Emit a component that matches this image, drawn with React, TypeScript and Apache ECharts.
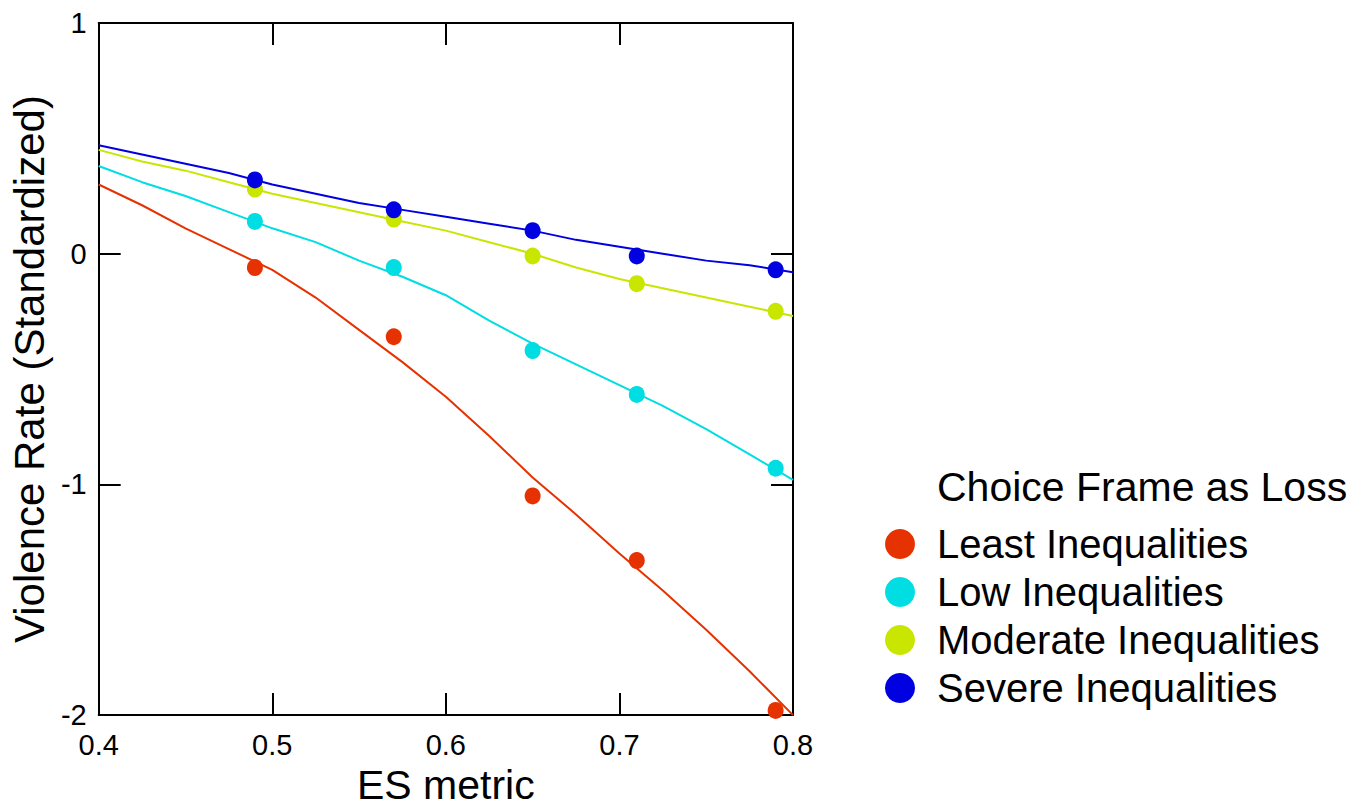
import React, { useEffect, useRef } from "react";
import * as echarts from "echarts";

const seriesNames = [
  "Least Inequalities",
  "Low Inequalities",
  "Moderate Inequalities",
  "Severe Inequalities",
];
const seriesColors = ["#e63200", "#00dde3", "#c8e600", "#0000e0"];

// observed points
const pointX = [0.49, 0.57, 0.65, 0.71, 0.79];
const leastPoints = [-0.06, -0.36, -1.05, -1.33, -1.98];
const lowPoints = [0.14, -0.06, -0.42, -0.61, -0.93];
const moderatePoints = [0.28, 0.15, -0.01, -0.13, -0.25];
const severePoints = [0.32, 0.19, 0.1, -0.01, -0.07];

// fitted curves
const fitX = [0.4, 0.425, 0.45, 0.475, 0.5, 0.525, 0.55, 0.575, 0.6, 0.625, 0.65, 0.675, 0.7, 0.725, 0.75, 0.775, 0.8];
const leastFit = [0.3, 0.21, 0.11, 0.02, -0.07, -0.19, -0.33, -0.47, -0.62, -0.79, -0.97, -1.13, -1.3, -1.46, -1.63, -1.81, -2.0];
const lowFit = [0.38, 0.31, 0.25, 0.18, 0.11, 0.05, -0.03, -0.1, -0.18, -0.29, -0.39, -0.48, -0.57, -0.66, -0.76, -0.87, -0.98];
const moderateFit = [0.45, 0.4, 0.36, 0.31, 0.26, 0.22, 0.18, 0.14, 0.1, 0.05, 0.0, -0.06, -0.11, -0.15, -0.19, -0.23, -0.27];
const severeFit = [0.47, 0.43, 0.39, 0.35, 0.3, 0.26, 0.22, 0.19, 0.16, 0.13, 0.1, 0.06, 0.03, 0.0, -0.03, -0.05, -0.08];

const xTicks = { min: 0.4, max: 0.8, interval: 0.1 };
const yTicks = { min: -2, max: 1, interval: 1 };

const allPoints = [leastPoints, lowPoints, moderatePoints, severePoints];
const allFits = [leastFit, lowFit, moderateFit, severeFit];

const FONT = "'Liberation Sans', Arial, Helvetica, sans-serif";

export default function App() {
  const ref = useRef<HTMLDivElement>(null);
  useEffect(() => {
    if (!ref.current) return;
    const chart = echarts.init(ref.current, null, { renderer: "svg" });
    const axisLine = { show: true, onZero: false, lineStyle: { color: "#000", width: 2 } };
    const axisTick = { show: true, inside: true, length: 22, lineStyle: { color: "#000", width: 2 } };
    const fitSeries = allFits.map((fit, i) => ({
      name: seriesNames[i] + " fit",
      type: "line",
      data: fitX.map((x, j) => [x, fit[j]]),
      showSymbol: false,
      symbol: "none",
      smooth: false,
      lineStyle: { color: seriesColors[i], width: 2 },
      itemStyle: { color: seriesColors[i] },
      z: 2,
    }));
    const pointSeries = allPoints.map((pts, i) => ({
      name: seriesNames[i],
      type: "scatter",
      data: pointX.map((x, j) => [x, pts[j]]),
      symbol: "circle",
      symbolSize: [16, 17],
      itemStyle: { color: seriesColors[i], opacity: 1 },
      z: 3,
    }));
    chart.setOption({
      animation: false,
      backgroundColor: "#fff",
      textStyle: { fontFamily: FONT },
      grid: { left: 93, top: 23, width: 700, height: 699, containLabel: false },
      title: {
        text: "Choice Frame as Loss",
        left: 937,
        top: 466,
        padding: 0,
        textStyle: { fontSize: 41, fontWeight: "normal", color: "#000", fontFamily: FONT },
      },
      legend: {
        data: seriesNames,
        orient: "vertical",
        left: 885,
        top: 524,
        padding: 0,
        itemWidth: 30,
        itemHeight: 30,
        itemGap: 8,
        icon: "circle",
        textStyle: { fontSize: 40, color: "#000", fontFamily: FONT, padding: [0, 0, 0, 17] },
      },
      xAxis: [
        {
          type: "value",
          position: "bottom",
          ...xTicks,
          axisLine,
          axisTick,
          splitLine: { show: false },
          axisLabel: {
            fontSize: 29,
            color: "#000",
            margin: 15,
            fontFamily: FONT,
            formatter: (v: number) => v.toFixed(1),
          },
          name: "ES metric",
          nameLocation: "middle",
          nameGap: 42,
          nameTextStyle: { fontSize: 41, color: "#000", fontFamily: FONT },
        },
        {
          type: "value",
          position: "top",
          ...xTicks,
          axisLine,
          axisTick,
          splitLine: { show: false },
          axisLabel: { show: false },
        },
      ],
      yAxis: [
        {
          type: "value",
          position: "left",
          ...yTicks,
          axisLine,
          axisTick,
          splitLine: { show: false },
          axisLabel: { fontSize: 29, color: "#000", margin: 12, fontFamily: FONT },
          name: "Violence Rate (Standardized)",
          nameLocation: "middle",
          nameGap: 39,
          nameTextStyle: { fontSize: 42, color: "#000", fontFamily: FONT },
        },
        {
          type: "value",
          position: "right",
          ...yTicks,
          axisLine,
          axisTick,
          splitLine: { show: false },
          axisLabel: { show: false },
        },
      ],
      series: [...fitSeries, ...pointSeries],
    });
    return () => chart.dispose();
  }, []);
  return (
    <div
      ref={ref}
      style={{ position: "fixed", left: 0, top: 0, width: 1353, height: 810 }}
    />
  );
}
